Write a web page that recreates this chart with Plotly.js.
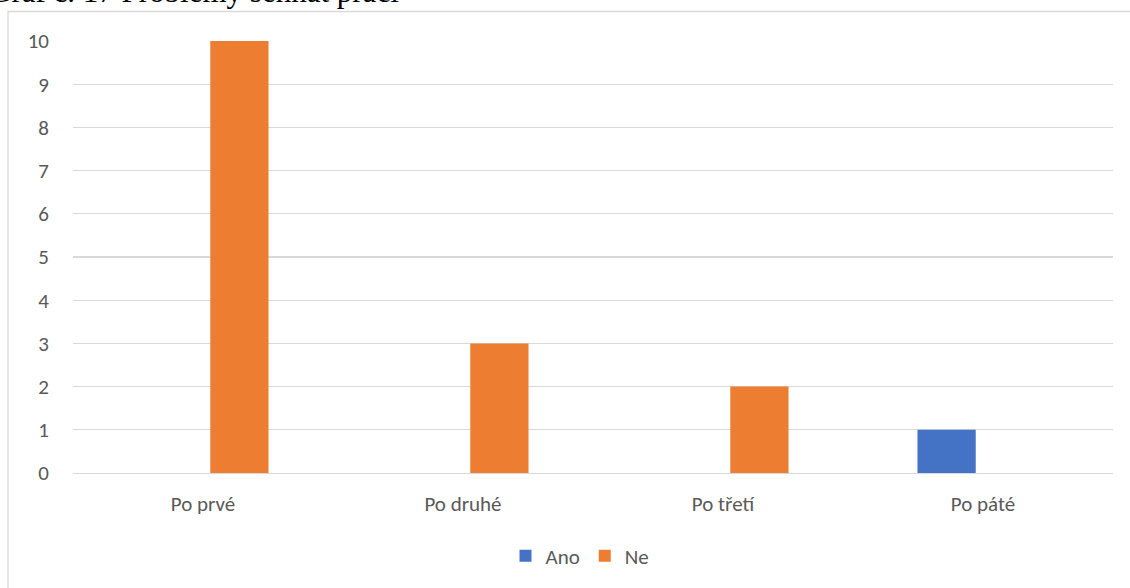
<!DOCTYPE html>
<html>
<head>
<meta charset="utf-8">
<script src="https://cdn.plot.ly/plotly-3.0.1.min.js"></script>
<style>html,body{margin:0;padding:0;background:#fff;}#chart{width:1130px;height:588px;}</style>
</head>
<body>
<div id="chart"></div>
<script>
const categories = ["Po prvé", "Po druhé", "Po třetí", "Po páté"];
const anoValues = [0, 0, 0, 1];
const neValues = [10, 3, 2, 0];
const yTicks = [0, 1, 2, 3, 4, 5, 6, 7, 8, 9, 10];
const titleText = "Graf č. 17 Problémy sehnat práci";

const font = "Carlito, Calibri, Lato, 'Open Sans', sans-serif";
const traces = [
  {type: "bar", name: "Ano", x: categories, y: anoValues, marker: {color: "#4472C4"}, hoverinfo: "none"},
  {type: "bar", name: "Ne", x: categories, y: neValues, marker: {color: "#ED7D31"}, hoverinfo: "none"}
];
const L = 73, T = 41, W = 1040, H = 432;
const layout = {
  width: 1130, height: 588,
  margin: {l: L, r: 1130 - L - W, t: T, b: 588 - T - H, pad: 0},
  paper_bgcolor: "#fff", plot_bgcolor: "#fff",
  barmode: "group", bargap: 0.44, bargroupgap: 0.2,
  showlegend: true,
  legend: {orientation: "h", x: (580 - L) / W, xanchor: "center", y: (T + H - 556) / H, yanchor: "middle",
           font: {family: font, size: 21, color: "#595959"}, itemwidth: 30, traceorder: "normal"},
  xaxis: {type: "category", showgrid: false, zeroline: false, showline: true, linecolor: "#d9d9d9", linewidth: 1.3,
          ticks: "", tickfont: {family: font, size: 21, color: "#595959"}, ticklabelstandoff: 11, fixedrange: true},
  yaxis: {range: [0, 10], tickvals: yTicks, showgrid: true, gridcolor: "#d9d9d9", gridwidth: 1.3,
          zeroline: false, showline: false, ticks: "", tickfont: {family: font, size: 21, color: "#595959"},
          ticklabelstandoff: 23, fixedrange: true},
  shapes: [{type: "rect", xref: "paper", yref: "paper",
            x0: (8 - L) / W, x1: (1140 - L) / W, y0: (T + H - 600) / H, y1: (T + H - 11.5) / H,
            line: {color: "#d9d9d9", width: 1.3}, fillcolor: "rgba(0,0,0,0)", layer: "below"}],
  annotations: [{text: titleText, xref: "paper", yref: "paper", x: (400 - L) / W, xanchor: "right",
                 y: (T + H - 10) / H, yanchor: "bottom", showarrow: false, borderpad: 0,
                 font: {family: "'Liberation Serif', 'Times New Roman', serif", size: 31, color: "#000"}}]
};
Plotly.newPlot("chart", traces, layout, {displayModeBar: false, staticPlot: true});
</script>
</body>
</html>
